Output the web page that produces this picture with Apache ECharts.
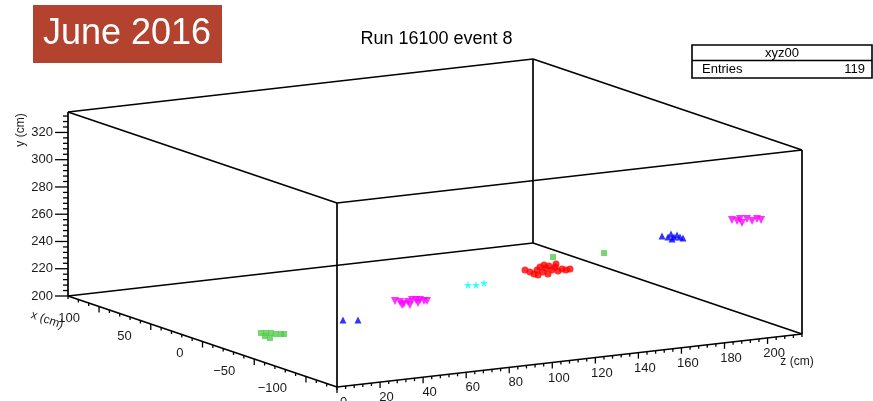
<!DOCTYPE html>
<html>
<head>
<meta charset="utf-8">
<script src="https://cdn.jsdelivr.net/npm/echarts@6/dist/echarts.min.js"></script>
<style>
html,body{margin:0;padding:0;background:#fff;}
#chart{width:873px;height:401px;}
</style>
</head>
<body>
<div id="chart"></div>
<script>
// ---- axis ranges and ticks (cm) ----
const xRange = [-130, 130];
const yRange = [200, 335];
const zRange = [0, 216];
const xTicks = [-100, -50, 0, 50, 100];
const yTicks = [200, 220, 240, 260, 280, 300, 320];
const zTicks = [0, 20, 40, 60, 80, 100, 120, 140, 160, 180, 200];
const xMinorStep = 10, yMinorStep = 4, zMinorStep = 4;

// ---- hits [x, y, z] in cm ----
const greenHits = [
  [-35.7,213.6,10],[-40.6,214.9,10],[-45.4,216.1,10],[-50.2,216.6,10],[-55.1,217.8,10],
  [-58.0,218.6,10],[-44.4,212.2,10],[-39.6,212.4,10],
  [-68.3,256.1,130],[-76.0,257.4,150]
];
const blueHits = [
  [-46.3,219.9,43],[-60.8,223.7,43],
  [-80.0,266.4,175],[-85.8,267.2,175],[-88.7,270.1,175],[-91.6,268.7,175],
  [-94.5,270.9,175],[-97.4,270.2,175],[-100.3,270.2,175],[-89.7,266.7,175]
];
const magentaHits = [
  [-46.6,229.6,67],[-51.5,230.1,67],[-55.3,229.7,67],[-59.2,232.1,67],[-63.1,234.6,67],
  [-67.0,235.6,67],[-70.8,236.6,67],[-74.7,236.8,67],[-77.6,237.6,67],[-61.1,230.4,67],
  [-53.4,228.4,67],[-68.9,233.9,67],
  [-85.2,274.1,205],[-90.1,274.6,205],[-94.9,274.4,205],[-99.7,278.6,205],
  [-104.6,278.4,205],[-109.4,281.1,205],[-113.3,281.3,205],[-93.0,276.8,205]
];
const cyanHits = [[-58.9,239.5,95],[-66.7,241.5,95],[-74.4,244.9,95]];
const redHits = [
  [-53.7,243.9,124],[-58.5,243.7,124],[-62.4,243.2,124],[-65.3,246.9,124],[-68.2,249.8,124],
  [-71.1,246.9,124],[-74.0,250.6,124],[-76.9,252.8,124],[-79.8,250.6,124],[-82.7,253.6,124],
  [-85.6,251.4,124],[-89.5,253.8,124],[-93.3,254.1,124],[-97.2,255.8,124],[-66.3,243.5,124],
  [-75.9,246.7,124],[-72.1,252.3,124],[-83.7,256.0,124]
];
const histName = 'xyz00';
const entries = 119;
const titleText = 'Run 16100 event 8';
const badgeText = 'June 2016';

// ---- view (oblique projection of the 3D frame onto the page plane) ----
const view = { ox: 68, oy: 296, xVec: [269, 91], zVec: [465, -53], yLen: 184 };
function project(x, y, z) {
  const u = (xRange[1] - x) / (xRange[1] - xRange[0]);
  const w = (z - zRange[0]) / (zRange[1] - zRange[0]);
  const v = (y - yRange[0]) / (yRange[1] - yRange[0]);
  return [view.ox + u * view.xVec[0] + w * view.zVec[0],
          view.oy + u * view.xVec[1] + w * view.zVec[1] - v * view.yLen];
}

// box corners & edges
const X0 = xRange[0], X1 = xRange[1], Y0 = yRange[0], Y1 = yRange[1], Z0 = zRange[0], Z1 = zRange[1];
const boxEdges = [
  [X1,Y0,Z0, X0,Y0,Z0],[X0,Y0,Z0, X0,Y0,Z1],[X0,Y0,Z1, X1,Y0,Z1],[X1,Y0,Z1, X1,Y0,Z0],
  [X1,Y1,Z0, X0,Y1,Z0],[X0,Y1,Z0, X0,Y1,Z1],[X0,Y1,Z1, X1,Y1,Z1],[X1,Y1,Z1, X1,Y1,Z0],
  [X1,Y0,Z0, X1,Y1,Z0],[X0,Y0,Z0, X0,Y1,Z0],[X0,Y0,Z1, X0,Y1,Z1],[X1,Y0,Z1, X1,Y1,Z1]
];

function minorTicks(range, step, majors) {
  const out = [];
  const start = Math.ceil(range[0] / step) * step;
  for (let v = start; v <= range[1] + 1e-9; v += step) {
    if (majors.indexOf(v) < 0) out.push(v);
  }
  return out;
}

const FONT = '"Liberation Sans", Arial, Helvetica, sans-serif';
const axisDefs = {
  x: { at: t => [t, Y0, Z0], dir: [0, 1], major: 6, minor: 3, lab: [-19, 12], align: 'right' },
  z: { at: t => [X0, Y0, t], dir: [0, 1], major: 6, minor: 3, lab: [6.5, 15.5], align: 'center' },
  y: { at: t => [X1, t, Z0], dir: [-1, 0], major: 13, minor: 5, lab: [-15, 0], align: 'right' }
};
function fmt(v) { return v < 0 ? '\u2212' + Math.abs(v) : String(v); }

function tickSeries(axis, values, isMajor) {
  const def = axisDefs[axis];
  return {
    type: 'custom', coordinateSystem: 'cartesian2d', silent: true, z: 3,
    data: values.map(v => [v]),
    renderItem: function (params, api) {
      const t = api.value(0);
      const pt = api.coord(project.apply(null, def.at(t)));
      const len = isMajor ? def.major : def.minor;
      const children = [{
        type: 'line',
        shape: { x1: pt[0], y1: pt[1], x2: pt[0] + def.dir[0] * len, y2: pt[1] + def.dir[1] * len },
        style: { stroke: '#000', lineWidth: 1.3 }
      }];
      if (isMajor) {
        children.push({
          type: 'text', x: pt[0] + def.lab[0], y: pt[1] + def.lab[1],
          style: { text: fmt(t), fill: '#1a1a1a', fontSize: 13, fontFamily: FONT, align: def.align, verticalAlign: 'middle' }
        });
      }
      return { type: 'group', children: children };
    }
  };
}

const proj = arr => arr.map(h => project(h[0], h[1], h[2]));
const starPath = 'path://M50,0 L61,35 L98,35 L68,57 L79,91 L50,70 L21,91 L32,57 L2,35 L39,35 Z';

const chart = echarts.init(document.getElementById('chart'), null, { renderer: 'canvas' });
const option = {
  animation: false,
  backgroundColor: '#ffffff',
  title: {
    text: titleText, left: 'center', top: 25,
    textStyle: { fontSize: 18, fontWeight: 'normal', color: '#000', fontFamily: FONT }
  },
  grid: { left: 0, right: 0, top: 0, bottom: 0, containLabel: false, outerBoundsMode: 'none' },
  xAxis: { type: 'value', min: 0, max: 873, show: false },
  yAxis: { type: 'value', min: 0, max: 401, inverse: true, show: false },
  graphic: [
    { type: 'rect', shape: { x: 33, y: 5, width: 189, height: 58 }, style: { fill: '#b3432f' }, z: 10 },
    { type: 'text', x: 127, y: 34, z: 11,
      style: { text: badgeText, fill: '#ffffff', fontSize: 36, fontFamily: FONT, align: 'center', verticalAlign: 'middle' } },
    { type: 'rect', shape: { x: 692, y: 45, width: 180, height: 33 }, style: { fill: '#fff', stroke: '#000', lineWidth: 1.6 }, z: 10 },
    { type: 'line', shape: { x1: 692, y1: 60.5, x2: 872, y2: 60.5 }, style: { stroke: '#000', lineWidth: 1.6 }, z: 11 },
    { type: 'text', x: 782, y: 53, z: 11,
      style: { text: histName, fill: '#000', fontSize: 13, fontFamily: FONT, align: 'center', verticalAlign: 'middle' } },
    { type: 'text', x: 702, y: 69.5, z: 11,
      style: { text: 'Entries', fill: '#000', fontSize: 13, fontFamily: FONT, align: 'left', verticalAlign: 'middle' } },
    { type: 'text', x: 865, y: 69.5, z: 11,
      style: { text: String(entries), fill: '#000', fontSize: 13, fontFamily: FONT, align: 'right', verticalAlign: 'middle' } },
    { type: 'text', x: 21, y: 130, rotation: Math.PI / 2, z: 11,
      style: { text: 'y (cm)', fill: '#1a1a1a', fontSize: 12, fontFamily: FONT, align: 'center', verticalAlign: 'middle' } },
    { type: 'text', x: 47, y: 320, rotation: -0.33, z: 11,
      style: { text: 'x (cm)', fill: '#1a1a1a', fontSize: 12, fontFamily: FONT, align: 'center', verticalAlign: 'middle' } },
    { type: 'text', x: 797, y: 362, z: 11,
      style: { text: 'z (cm)', fill: '#1a1a1a', fontSize: 12, fontFamily: FONT, align: 'center', verticalAlign: 'middle' } }
  ],
  series: [
    {
      type: 'custom', coordinateSystem: 'cartesian2d', silent: true, z: 2,
      data: boxEdges,
      renderItem: function (params, api) {
        const a = api.coord(project(api.value(0), api.value(1), api.value(2)));
        const b = api.coord(project(api.value(3), api.value(4), api.value(5)));
        return { type: 'line', shape: { x1: a[0], y1: a[1], x2: b[0], y2: b[1] },
                 style: { stroke: '#000', lineWidth: 1.7 } };
      }
    },
    tickSeries('x', xTicks, true),
    tickSeries('x', minorTicks(xRange, xMinorStep, xTicks), false),
    tickSeries('y', yTicks, true),
    tickSeries('y', minorTicks(yRange, yMinorStep, yTicks), false),
    tickSeries('z', zTicks, true),
    tickSeries('z', minorTicks(zRange, zMinorStep, zTicks), false),
    { name: 'green', type: 'scatter', z: 5, symbol: 'rect', symbolSize: 6,
      itemStyle: { color: '#55cc4e' }, data: proj(greenHits) },
    { name: 'blue', type: 'scatter', z: 5, symbol: 'triangle', symbolSize: 7,
      itemStyle: { color: '#0000ff' }, data: proj(blueHits) },
    { name: 'magenta', type: 'scatter', z: 5, symbol: 'triangle', symbolRotate: 180, symbolSize: 8,
      itemStyle: { color: '#ff00ff' }, data: proj(magentaHits) },
    { name: 'cyan', type: 'scatter', z: 5, symbol: starPath, symbolSize: 8,
      itemStyle: { color: '#00ffff' }, data: proj(cyanHits) },
    { name: 'red', type: 'scatter', z: 5, symbol: 'circle', symbolSize: 7,
      itemStyle: { color: '#ff0000' }, data: proj(redHits) }
  ]
};
chart.setOption(option);
</script>
</body>
</html>
